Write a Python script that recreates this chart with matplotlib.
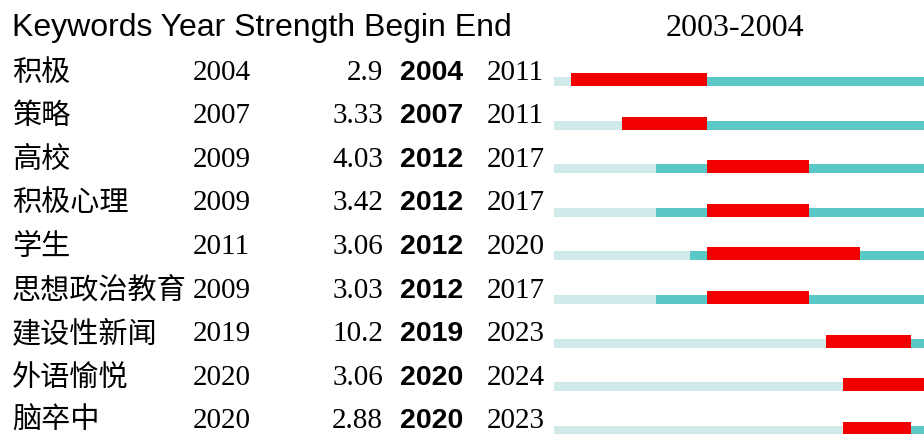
import matplotlib
matplotlib.use("Agg")
import matplotlib.pyplot as plt
from matplotlib.transforms import blended_transform_factory

# 关键词突现数据
keywords = ["积极", "策略", "高校", "积极心理", "学生", "思想政治教育", "建设性新闻", "外语愉悦", "脑卒中"]
years = [2004, 2007, 2009, 2009, 2011, 2009, 2019, 2020, 2020]
strengths = ["2.9", "3.33", "4.03", "3.42", "3.06", "3.03", "10.2", "3.06", "2.88"]
begins = [2004, 2007, 2012, 2012, 2012, 2012, 2019, 2020, 2020]
ends = [2011, 2011, 2017, 2017, 2020, 2017, 2023, 2024, 2023]

first_year = 2003
last_year = 2024

W, H = 924, 434
fig = plt.figure(figsize=(W / 100, H / 100), dpi=100)

# 时间轴区域
x0 = 554 / W
ax = fig.add_axes([x0, 0, 1 - x0, 1])
px_per_year = 17
ax.set_xlim(first_year, first_year + (W - 554) / px_per_year)
row_h = 43.6
ax.set_ylim((H - 72) / row_h, -72 / row_h)  # inverted: row 0 on top
ax.axis("off")

light = "#d0eaea"
teal = "#5bc8c8"
red = "#f20000"
thin_top = 5 / row_h
thin_h = 9 / row_h
red_top = 1 / row_h
red_h = 13 / row_h

for i in range(len(keywords)):
    # before keyword appears
    ax.barh(i + thin_top, years[i] - first_year, left=first_year, height=thin_h,
            align="edge", color=light, linewidth=0)
    # after keyword appears
    ax.barh(i + thin_top, last_year + 1 - years[i], left=years[i], height=thin_h,
            align="edge", color=teal, linewidth=0)
    # burst
    ax.barh(i + red_top, ends[i] + 1 - begins[i], left=begins[i], height=red_h,
            align="edge", color=red, linewidth=0)

# 表格文字
tr = blended_transform_factory(fig.transFigure, ax.transData)
num_font = "Liberation Serif"
fs = 21
dy = 0.5 / row_h
for i in range(len(keywords)):
    y = i + dy
    ax.text(12 / W, y, keywords[i], transform=tr, va="center", ha="left",
            fontsize=21, family=["Noto Sans CJK SC", "DejaVu Sans"])
    ax.text(193 / W, y, str(years[i]), transform=tr, va="center", ha="left",
            fontsize=fs, family=num_font)
    ax.text(383 / W, y, strengths[i], transform=tr, va="center", ha="right",
            fontsize=fs, family=num_font)
    ax.text(400 / W, y, str(begins[i]), transform=tr, va="center", ha="left",
            fontsize=20.5, family="Liberation Sans", weight="bold")
    ax.text(487 / W, y, str(ends[i]), transform=tr, va="center", ha="left",
            fontsize=fs, family=num_font)

ax.text(12 / W, -1.0, "Keywords Year Strength Begin End", transform=tr,
        va="center", ha="left", fontsize=23, family="Liberation Sans")
ax.text(735 / W, -1.0, "2003-2004", transform=tr, va="center", ha="center",
        fontsize=23, family=num_font)

fig.savefig("out.png", dpi=100)
